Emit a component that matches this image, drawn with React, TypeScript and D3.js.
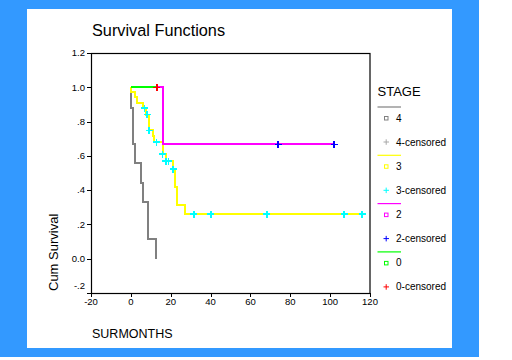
import React from "react";
import * as d3 from "d3";

const xTicks = [-20, 0, 20, 40, 60, 80, 100, 120];
const yTicks = [1.2, 1.0, 0.8, 0.6, 0.4, 0.2, 0.0, -0.2];
const yTickLabels = ["1.2", "1.0", ".8", ".6", ".4", ".2", "0.0", "-.2"];

// Stage 4
const s4Times = [0, 1.2, 2.2, 5.2, 6.2, 8.4, 12.4];
const s4Surv = [0.881, 0.668, 0.557, 0.441, 0.33, 0.115, 0.0];
const s4End = 12.4;
const s4Censor: number[] = [];

// Stage 3
const s3Times = [0, 2.0, 3.2, 6.2, 7.5, 9.2, 11.0, 11.8, 15.9, 17.5, 21.2, 22.3, 23.2, 27.2];
const s3Surv = [0.97, 0.941, 0.908, 0.878, 0.84, 0.749, 0.718, 0.68, 0.61, 0.57, 0.522, 0.418, 0.313, 0.26];
const s3End = 116;
const s3Censor = [6.9, 8.2, 9.2, 12.8, 15.9, 17.6, 19.0, 21.2, 31.6, 40.1, 68.2, 107, 116];

// Stage 2
const s2Times = [16.2];
const s2Surv = [0.667];
const s2End = 102;
const s2Censor = [73.9, 102];

// Stage 0
const s0Times: number[] = [];
const s0Surv: number[] = [];
const s0End = 13;
const s0Censor = [13];

const legendLabels = ["4", "4-censored", "3", "3-censored", "2", "2-censored", "0", "0-censored"];

const series = [
  { times: s4Times, surv: s4Surv, end: s4End, censor: s4Censor, line: "#808080", cens: "#a8a8a8" },
  { times: s3Times, surv: s3Surv, end: s3End, censor: s3Censor, line: "#ffff00", cens: "#00ffff" },
  { times: s2Times, surv: s2Surv, end: s2End, censor: s2Censor, line: "#ff00ff", cens: "#0000ff" },
  { times: s0Times, surv: s0Surv, end: s0End, censor: s0Censor, line: "#00ff00", cens: "#ff0000" },
];

function survAt(times: number[], surv: number[], t: number) {
  let v = 1;
  for (let i = 0; i < times.length; i++) if (times[i] <= t) v = surv[i];
  return v;
}

export default function App() {
  const x = d3.scaleLinear().domain([-20, 120]).range([91, 370]);
  const y = d3.scaleLinear().domain([-0.2, 1.2]).range([293, 53]);
  const line = d3
    .line<[number, number]>()
    .x((d) => x(d[0]))
    .y((d) => y(d[1]))
    .curve(d3.curveStepAfter);

  const font = "Arial, 'Liberation Sans', sans-serif";

  return (
    <svg width={512} height={360} style={{ position: "absolute", left: 0, top: 0 }} fontFamily={font}>
      <rect x={0} y={0} width={512} height={360} fill="#ffffff" />
      <rect x={0} y={0} width={479} height={357} fill="#3399ff" />
      <rect x={27} y={9} width={425} height={339} fill="#ffffff" />

      <text x={92} y={36} fontSize={16.3} fill="#000">Survival Functions</text>

      {/* frame */}
      <rect x={91.5} y={53.5} width={278.5} height={240} fill="none" stroke="#000" strokeWidth={1.2} />

      {yTicks.map((t, i) => (
        <g key={"y" + i}>
          <line x1={87} x2={91} y1={Math.round(y(t)) + 0.5} y2={Math.round(y(t)) + 0.5} stroke="#000" />
          <text x={85} y={y(t) + (i === yTicks.length - 1 ? -7 : 0)} dy="0.35em" textAnchor="end" fontSize={9.5}>
            {yTickLabels[i]}
          </text>
        </g>
      ))}
      {xTicks.map((t, i) => (
        <g key={"x" + i}>
          <line x1={Math.round(x(t)) + 0.5} x2={Math.round(x(t)) + 0.5} y1={293} y2={297} stroke="#000" />
          <text x={x(t)} y={305} textAnchor="middle" fontSize={9.5}>
            {t}
          </text>
        </g>
      ))}

      <text transform="translate(57.5,291) rotate(-90)" fontSize={13} fill="#000">Cum Survival</text>
      <text x={92} y={338} fontSize={12.5} fill="#000">SURMONTHS</text>

      {/* curves */}
      {series.map((s, i) => {
        const pts: [number, number][] = [[0, 1]];
        s.times.forEach((t, j) => pts.push([t, s.surv[j]]));
        pts.push([s.end, s.surv.length ? s.surv[s.surv.length - 1] : 1]);
        return (
          <path key={"c" + i} d={line(pts) || ""} fill="none" stroke={s.line} strokeWidth={2} shapeRendering="crispEdges" />
        );
      })}
      {series.map((s, i) =>
        s.censor.map((t, j) => {
          const cx = x(t);
          const cy = y(survAt(s.times, s.surv, t));
          return (
            <g key={"p" + i + "-" + j} stroke={s.cens} strokeWidth={1.5} shapeRendering="crispEdges">
              <line x1={cx - 3.5} x2={cx + 3.5} y1={cy} y2={cy} />
              <line x1={cx} x2={cx} y1={cy - 3.5} y2={cy + 3.5} />
            </g>
          );
        })
      )}

      {/* legend */}
      <text x={377.5} y={96} fontSize={13} fill="#000">STAGE</text>
      {series.map((s, i) => {
        const base = 107 + i * 48.3;
        return (
          <g key={"l" + i}>
            <line x1={377.5} x2={401} y1={base} y2={base} stroke={s.line} strokeWidth={1.2} />
            <rect x={384.5} y={base + 9.5} width={3.5} height={3.5} fill="none" stroke={s.line} strokeWidth={1} />
            <text x={396} y={base + 14.5} fontSize={10} fill="#000">{legendLabels[i * 2]}</text>
            <g stroke={s.cens} strokeWidth={1}>
              <line x1={383.5} x2={389} y1={base + 35} y2={base + 35} />
              <line x1={386.2} x2={386.2} y1={base + 32.3} y2={base + 37.8} />
            </g>
            <text x={396} y={base + 38.5} fontSize={10} fill="#000">{legendLabels[i * 2 + 1]}</text>
          </g>
        );
      })}
    </svg>
  );
}
